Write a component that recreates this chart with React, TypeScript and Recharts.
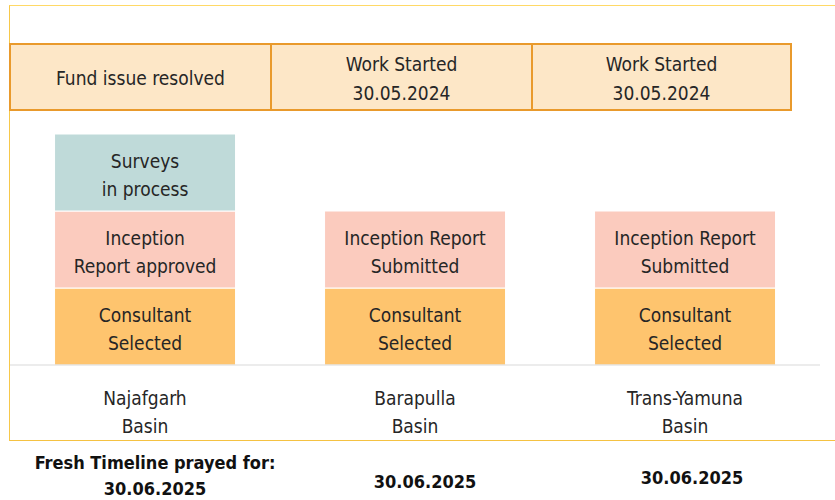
import React from "react";
import { BarChart, Bar, XAxis, YAxis, LabelList } from "recharts";

const basins = ["Najafgarh\nBasin", "Barapulla\nBasin", "Trans-Yamuna\nBasin"];
const consultantSelected = [1, 1, 1];
const inceptionReport = [1, 1, 1];
const surveysInProcess = [1, 0, 0];
const consultantLabels = ["Consultant\nSelected", "Consultant\nSelected", "Consultant\nSelected"];
const inceptionLabels = ["Inception\nReport approved", "Inception Report\nSubmitted", "Inception Report\nSubmitted"];
const surveyLabels = ["Surveys\nin process", "", ""];
const statusHeaders = ["Fund issue resolved", "Work Started\n30.05.2024", "Work Started\n30.05.2024"];
const freshTimelines = ["Fresh Timeline prayed for:\n30.06.2025", "30.06.2025", "30.06.2025"];

const data = basins.map((name, i) => ({
  name,
  consultant: consultantSelected[i],
  inception: inceptionReport[i],
  surveys: surveysInProcess[i],
  consultantLabel: consultantLabels[i],
  inceptionLabel: inceptionLabels[i],
  surveyLabel: surveyLabels[i],
}));

const FONT = "'DejaVu Sans Condensed', 'DejaVu Sans', sans-serif";
const TEXT = "#262626";
const condensed = { fontStretch: "condensed" } as React.CSSProperties;

const renderLabel = (props: any) => {
  const { x, y, width, height, value } = props;
  if (!value) return null;
  const lines = String(value).split("\n");
  const cx = x + width / 2;
  const cy = y + height / 2;
  return (
    <text x={cx} y={cy} textAnchor="middle" fill={TEXT} fontSize={19} fontFamily={FONT} style={condensed}>
      {lines.map((l, i) => (
        <tspan key={i} x={cx} dy={i === 0 ? -5 : 28}>
          {l}
        </tspan>
      ))}
    </text>
  );
};

const BasinTick = (props: any) => {
  const { x, y, payload } = props;
  const lines = String(payload.value).split("\n");
  return (
    <text x={x} y={y} textAnchor="middle" fill={TEXT} fontSize={19} fontFamily={FONT} style={condensed}>
      {lines.map((l, i) => (
        <tspan key={i} x={x} dy={i === 0 ? 32 : 28}>
          {l}
        </tspan>
      ))}
    </text>
  );
};

const headerLeft = [9, 270, 531];
const timelinePos = [
  { x: 155, y: 450 },
  { x: 425, y: 469 },
  { x: 692, y: 465 },
];

export default function App() {
  return (
    <div style={{ position: "absolute", top: 0, left: 0, width: 835, height: 500, fontFamily: FONT, color: TEXT, ...condensed }}>
      {/* yellow frame */}
      <div
        style={{
          position: "absolute",
          left: 9,
          top: 5,
          width: 826,
          height: 436,
          borderTop: "1px solid #FFD966",
          borderLeft: "1px solid #F7C84A",
          borderBottom: "1px solid #F5C242",
          boxSizing: "border-box",
        }}
      />
      <BarChart
        width={835}
        height={500}
        data={data}
        margin={{ top: 57, right: 15, bottom: 75, left: 10 }}
        barCategoryGap="16.5%"
        style={{ position: "absolute", top: 0, left: 0 }}
      >
        <XAxis
          dataKey="name"
          height={60}
          axisLine={{ stroke: "#d9d9d9" }}
          tickLine={false}
          tick={<BasinTick />}
          interval={0}
        />
        <YAxis hide domain={[0, 4]} />
        <Bar dataKey="consultant" stackId="a" fill="#FEC46E" stroke="#fff" strokeWidth={1} isAnimationActive={false}>
          <LabelList dataKey="consultantLabel" content={renderLabel} />
        </Bar>
        <Bar dataKey="inception" stackId="a" fill="#FBCBBE" stroke="#fff" strokeWidth={1} isAnimationActive={false}>
          <LabelList dataKey="inceptionLabel" content={renderLabel} />
        </Bar>
        <Bar dataKey="surveys" stackId="a" fill="#BFDAD9" stroke="#fff" strokeWidth={1} isAnimationActive={false}>
          <LabelList dataKey="surveyLabel" content={renderLabel} />
        </Bar>
      </BarChart>
      {/* status header row */}
      {statusHeaders.map((h, i) => (
        <div
          key={i}
          style={{
            position: "absolute",
            left: headerLeft[i],
            top: 43,
            width: 261,
            height: 68,
            boxSizing: "border-box",
            paddingTop: 3,
            background: "#FDE7C7",
            borderTop: "2px solid #E99A2C",
            borderBottom: "2px solid #E99A2C",
            borderLeft: "2px solid #E99A2C",
            borderRight: i === 2 ? "2px solid #E99A2C" : "none",
            display: "flex",
            alignItems: "center",
            justifyContent: "center",
            textAlign: "center",
            fontSize: 19,
            lineHeight: "29px",
            whiteSpace: "pre-line",
          }}
        >
          {h}
        </div>
      ))}
      {/* fresh timelines */}
      {freshTimelines.map((t, i) => (
        <div
          key={i}
          style={{
            position: "absolute",
            left: timelinePos[i].x - 150,
            top: timelinePos[i].y,
            width: 300,
            textAlign: "center",
            fontWeight: "bold",
            fontSize: 18,
            lineHeight: "26px",
            whiteSpace: "pre",
            color: "#111",
          }}
        >
          {t}
        </div>
      ))}
    </div>
  );
}
